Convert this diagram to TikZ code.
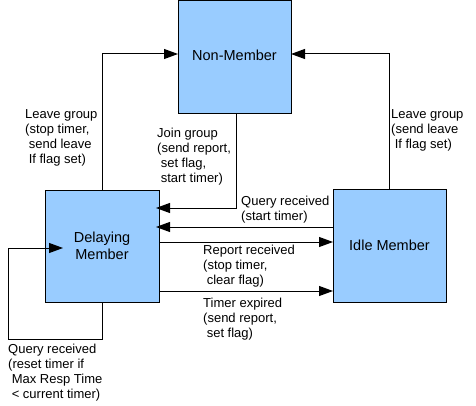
\documentclass[tikz,border=0pt]{standalone}
\usepackage{fontspec}
\setmainfont{Liberation Sans}
\usetikzlibrary{arrows.meta}
\definecolor{boxblue}{HTML}{99CCFF}
\begin{document}
\begin{tikzpicture}[x=1pt,y=-1pt,
  state/.style={draw=black,line width=1pt,fill=boxblue,minimum width=113pt,minimum height=113pt,inner sep=0pt,outer sep=0pt,align=center,font=\fontsize{14.5}{17}\selectfont},
  lbl/.style={anchor=north west,inner sep=0pt,align=left,font=\fontsize{13}{15}\selectfont},
  arr/.style={draw=black,line width=1pt,-{Triangle[length=14pt,width=10pt]}}]
\useasboundingbox (0,0) rectangle (476,406);
% states
\node[state] (N) at (234.5,57) {\raisebox{3pt}{Non-Member}};
\node[state,minimum width=114pt,minimum height=112pt] (D) at (102,246) {Delaying\\Member};
\node[state] (I) at (389.5,245.5) {Idle Member};
% helper coordinates
\coordinate (yq) at (0,227);
\coordinate (yr) at (0,242);
\coordinate (yt) at (0,291);
\coordinate (yj) at (0,208);
\coordinate (lp) at (8,339);
\coordinate (lt) at (63,248);
% connectors
\draw[arr] (D.north) |- ([yshift=3pt]N.west);
\draw[arr] (I.north) |- ([yshift=3pt]N.east);
\draw[arr,shorten >=-3pt] ([xshift=1.5pt]N.south) |- (D.east |- yj);
\draw[arr,shorten >=-3pt] (I.west |- yq) -- (D.east |- yq);
\draw[arr] (D.east |- yr) -- (I.west |- yr);
\draw[arr] (D.east |- yt) -- (I.west |- yt);
\draw[arr] (D.south) |- (lp) |- (lt);
% labels
\node[lbl] (l1) at (25,109.5) {Leave group\\(stop timer,\\\hspace*{3.6pt}send leave\\\hspace*{3.6pt}If flag set)};
\node[lbl] (l2) at (157,128) {Join group\\(send report,\\\hspace*{3.6pt}set flag,\\\hspace*{3.6pt}start timer)};
\node[lbl] (l3) at (391,109.5) {Leave group\\(send leave\\\hspace*{3.6pt}If flag set)};
\node[lbl] (l4) at (241,195.5) {Query received\\(start timer)};
\node[lbl] (l5) at (203,245) {Report received\\(stop timer,\\\hspace*{3.6pt}clear flag)};
\node[lbl] (l6) at (203,297.5) {Timer expired\\(send report,\\\hspace*{3.6pt}set flag)};
\node[lbl] (l7) at (8,344) {Query received\\(reset timer if\\\hspace*{3.6pt}Max Resp Time\\\hspace*{3.6pt}< current timer)};
\end{tikzpicture}
\end{document}
